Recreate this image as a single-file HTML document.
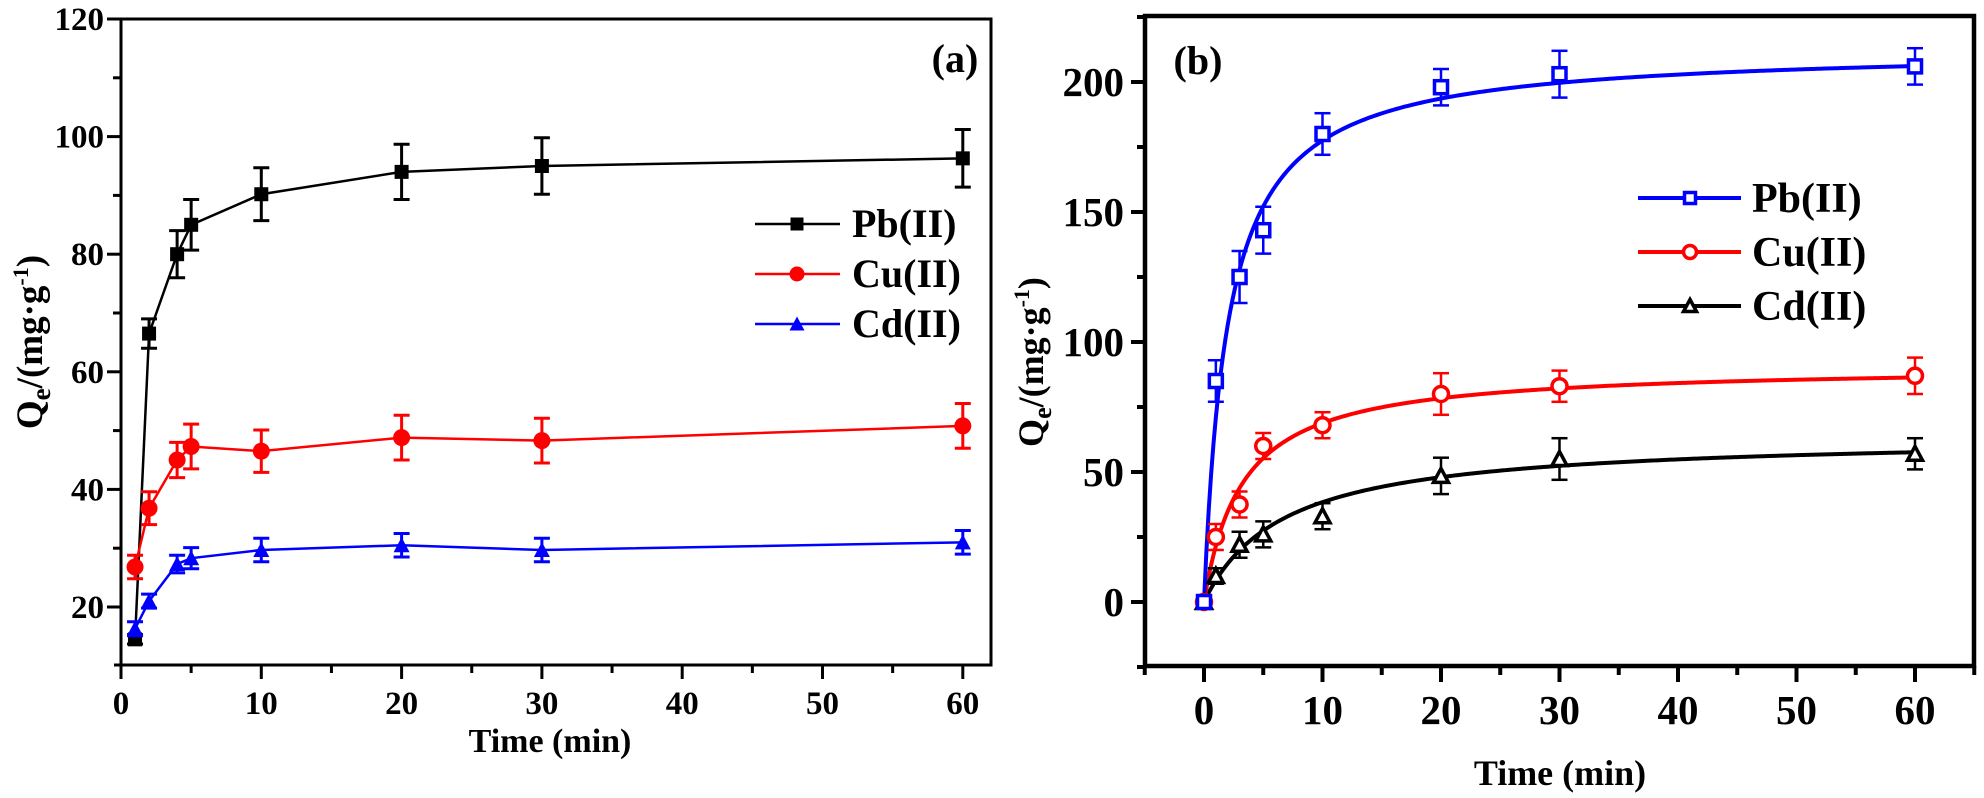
<!DOCTYPE html>
<html><head><meta charset="utf-8"><style>
html,body{margin:0;padding:0;background:#fff;}
svg{display:block;}
text{font-family:"Liberation Serif",serif;font-weight:bold;fill:#000;}
</style></head><body>
<svg id="s" width="1984" height="798" xmlns="http://www.w3.org/2000/svg"></svg>
<script>
const S=document.getElementById('s');let h='';
function ln(x1,y1,x2,y2,c,w){h+=`<line x1="${x1}" y1="${y1}" x2="${x2}" y2="${y2}" stroke="${c}" stroke-width="${w}"/>`;}
function tx(x,y,t,fs,anc,extra){h+=`<text x="${x}" y="${y}" font-size="${fs}" text-anchor="${anc||'middle'}" ${extra||''}>${t}</text>`;}
// ---------- Panel a ----------
const ax=t=>121+t*14.03, ay=v=>19+(120-v)*5.88;
h+=`<rect x="121" y="19" width="870" height="646" fill="none" stroke="#000" stroke-width="3"/>`;
for(let v=20;v<=120;v+=10){const maj=v%20==0;ln(121-(maj?14:8),ay(v),121,ay(v),'#000',3);if(maj)tx(104,ay(v)+11,v,33,'end');}
for(let t=0;t<=60;t+=5){const maj=t%10==0;ln(ax(t),665,ax(t),665+(maj?14:8),'#000',3);if(maj)tx(ax(t),714,t,33);}
ln(114,665,121,665,'#000',3);
tx(550,752,'Time (min)',34);
h+=`<text transform="translate(42,342) rotate(-90)" font-size="37" text-anchor="middle">Q<tspan font-size="27" dy="8">e</tspan><tspan dy="-8">/(mg·g</tspan><tspan font-size="22" dy="-14">-1</tspan><tspan dy="14">)</tspan></text>`;
tx(955,72,'(a)',40);
const A={
 Pb:{c:'#000',m:'sq',d:[[1,14.5,0.8],[2,66.5,2.5],[4,80,4],[5,85,4.3],[10,90.2,4.5],[20,94,4.7],[30,95,4.8],[60,96.3,4.9]]},
 Cu:{c:'#f00',m:'ci',d:[[1,26.8,2],[2,36.8,2.8],[4,45,3],[5,47.3,3.8],[10,46.5,3.6],[20,48.8,3.8],[30,48.3,3.8],[60,50.8,3.8]]},
 Cd:{c:'#00f',m:'tr',d:[[1,16.3,1.2],[2,21,1.2],[4,27.3,1.5],[5,28.3,1.8],[10,29.7,2],[20,30.5,2],[30,29.7,2],[60,31,2]]}};
function mark(x,y,m,c,open,sz){
 const f=open?'#fff':c, sw=open?3.5:0;
 if(m=='sq')h+=`<rect x="${x-sz/2}" y="${y-sz/2}" width="${sz}" height="${sz}" fill="${f}" stroke="${c}" stroke-width="${sw}"/>`;
 else if(m=='ci')h+=`<circle cx="${x}" cy="${y}" r="${sz/2}" fill="${f}" stroke="${c}" stroke-width="${sw}"/>`;
 else h+=`<polygon points="${x},${y-sz/2-1} ${x+sz/2+1},${y+sz/2} ${x-sz/2-1},${y+sz/2}" fill="${f}" stroke="${c}" stroke-width="${sw}"/>`;
}
for(const k of ['Pb','Cu','Cd']){const s=A[k];
 h+=`<polyline fill="none" stroke="${s.c}" stroke-width="2.5" points="${s.d.map(p=>ax(p[0])+','+ay(p[1])).join(' ')}"/>`;
 for(const p of s.d){const x=ax(p[0]),y1=ay(p[1]+p[2]),y2=ay(p[1]-p[2]);ln(x,y1,x,y2,s.c,3);ln(x-8,y1,x+8,y1,s.c,3);ln(x-8,y2,x+8,y2,s.c,3);mark(x,ay(p[1]),s.m,s.c,false,s.m=='ci'?17:14);}
}
[['Pb(II)','Pb',224],['Cu(II)','Cu',274],['Cd(II)','Cd',324]].forEach(([t,k,y])=>{const s=A[k];ln(755,y,840,y,s.c,2.5);mark(797,y,s.m,s.c,false,s.m=='ci'?15:13);tx(852,y+13,t,40,'start');});
// ---------- Panel b ----------
const bx=t=>1204+t*11.85, by=v=>602-v*2.6;
h+=`<rect x="1145" y="16" width="829" height="650" fill="none" stroke="#000" stroke-width="4.5"/>`;
for(let v=-25;v<=225;v+=25){const maj=v%50==0;ln(1145-(maj?14:8),by(v),1145,by(v),'#000',4);if(maj)tx(1124,by(v)+14,v,41,'end');}
for(let t=-5;t<=65;t+=5){const maj=t%10==0;ln(bx(t),666,bx(t),666+(maj?16:9),'#000',4);if(maj)tx(bx(t),724,t,41,'middle');}
tx(1560,785,'Time (min)',36);
h+=`<text transform="translate(1043,362) rotate(-90)" font-size="36" text-anchor="middle">Q<tspan font-size="26" dy="8">e</tspan><tspan dy="-8">/(mg·g</tspan><tspan font-size="22" dy="-14">-1</tspan><tspan dy="14">)</tspan></text>`;
tx(1198,74,'(b)',40);
const pso=(qe,a)=>t=>qe*a*t/(1+a*t);
const B={
 Pb:{c:'#00f',m:'sq',d:[[0,0,0],[1,85,8],[3,125,10],[5,143,9],[10,180,8],[20,198,7],[30,203,9],[60,206,7]],f:pso(213,0.5)},
 Cu:{c:'#f00',m:'ci',d:[[0,0,0],[1,25,5],[3,37.5,5],[5,60,5],[10,68,5],[20,80,8],[30,83,6],[60,87,7]],f:pso(91,0.31)},
 Cd:{c:'#000',m:'tr',d:[[0,0,0],[1,10,3],[3,22,5],[5,26,5],[10,33,5],[20,48.5,7],[30,55,8],[60,57,6]],f:pso(64,0.15)}};
for(const k of ['Cd','Cu','Pb']){const s=B[k];let pts=[];for(let t=0;t<=60;t+=0.2)pts.push(bx(t)+','+by(s.f(t)));
 h+=`<polyline fill="none" stroke="${s.c}" stroke-width="4" points="${pts.join(' ')}"/>`;}
for(const k of ['Cd','Cu','Pb']){const s=B[k];
 for(const p of s.d){const x=bx(p[0]);if(p[2]){const y1=by(p[1]+p[2]),y2=by(p[1]-p[2]);ln(x,y1,x,y2,s.c,2.5);ln(x-8,y1,x+8,y1,s.c,2.5);ln(x-8,y2,x+8,y2,s.c,2.5);}mark(x,by(p[1]),s.m,s.c,true,s.m=='ci'?15:13);}
}
[['Pb(II)','Pb',198],['Cu(II)','Cu',252],['Cd(II)','Cd',306]].forEach(([t,k,y])=>{const s=B[k];ln(1638,y,1741,y,s.c,4);mark(1690,y,s.m,s.c,true,s.m=='ci'?13:11);tx(1752,y+14,t,42,'start');});
S.innerHTML=h;
</script>
</body></html>
